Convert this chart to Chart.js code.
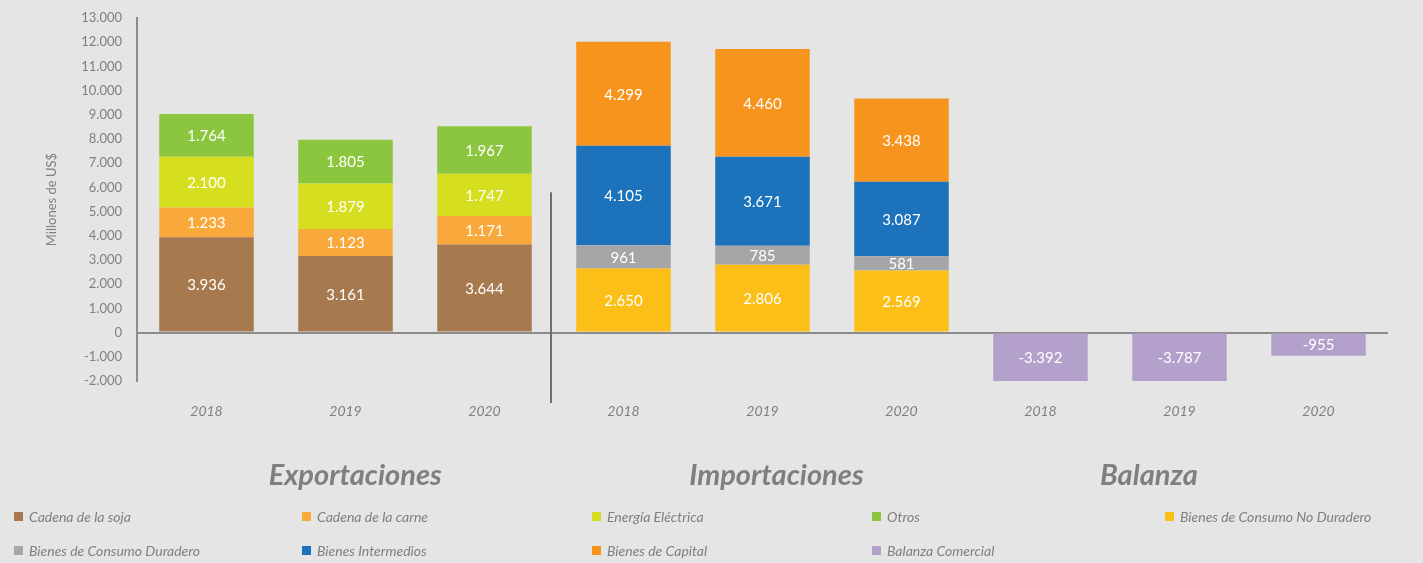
<!DOCTYPE html>
<html lang="es">
<head>
<meta charset="utf-8">
<title>Exportaciones, Importaciones y Balanza</title>
<script src="https://cdn.jsdelivr.net/npm/chart.js@4/dist/chart.umd.min.js"></script>
<style>
  html, body { margin: 0; padding: 0; background: #e5e5e5; }
  #wrap { position: relative; width: 1423px; height: 563px; }
</style>
</head>
<body>
<div id="wrap"><canvas id="myChart"></canvas></div>
<script>
'use strict';

// years repeat for each block: exports, imports, balance
var years = ['2018', '2019', '2020', '2018', '2019', '2020', '2018', '2019', '2020'];
var groups = ['Exportaciones', 'Importaciones', 'Balanza'];

// exports (millions of US$)
var soja = [3936, 3161, 3644, null, null, null, null, null, null];
var carne = [1233, 1123, 1171, null, null, null, null, null, null];
var energia = [2100, 1879, 1747, null, null, null, null, null, null];
var otros = [1764, 1805, 1967, null, null, null, null, null, null];
// imports
var noDuradero = [null, null, null, 2650, 2806, 2569, null, null, null];
var duradero = [null, null, null, 961, 785, 581, null, null, null];
var intermedios = [null, null, null, 4105, 3671, 3087, null, null, null];
var capital = [null, null, null, 4299, 4460, 3438, null, null, null];
// trade balance
var balanza = [null, null, null, null, null, null, -3392, -3787, -955];

var yMin = -2000;
var yMax = 13000;
var yStep = 1000;

var grey = '#7f7f7f';

function fmt(v) {
  return Number(v).toLocaleString('de-DE');
}

function ds(label, data, color) {
  return { label: label, data: data, backgroundColor: color, stack: 'total' };
}

// white numbers in the middle of the visible part of every segment
var segmentLabels = {
  id: 'segmentLabels',
  afterDatasetsDraw: function(chart) {
    var ctx = chart.ctx;
    var area = chart.chartArea;
    ctx.save();
    ctx.fillStyle = '#ffffff';
    ctx.font = '15px Lato';
    ctx.textAlign = 'center';
    ctx.textBaseline = 'middle';
    chart.data.datasets.forEach(function(set, i) {
      var meta = chart.getDatasetMeta(i);
      meta.data.forEach(function(bar, j) {
        var v = set.data[j];
        if (v === null) return;
        var top = Math.max(Math.min(bar.y, area.bottom), area.top);
        var base = Math.max(Math.min(bar.base, area.bottom), area.top);
        ctx.fillText(fmt(v), bar.x, (top + base) / 2 + 1);
      });
    });
    ctx.restore();
  }
};

// divider between exports and imports, group titles and the legend
var extras = {
  id: 'extras',
  beforeDraw: function(chart) {
    var ctx = chart.ctx;
    ctx.save();
    ctx.fillStyle = '#e5e5e5';
    ctx.fillRect(0, 0, chart.width, chart.height);
    ctx.restore();
  },
  afterDraw: function(chart) {
    var ctx = chart.ctx;
    var x = chart.scales.x;
    var y = chart.scales.y;
    var area = chart.chartArea;
    ctx.save();

    // divider
    var dx = (x.getPixelForValue(2) + x.getPixelForValue(3)) / 2 - 3;
    ctx.strokeStyle = '#6f6f6f';
    ctx.lineWidth = 2;
    ctx.beginPath();
    ctx.moveTo(dx, y.getPixelForValue(5800));
    ctx.lineTo(dx, area.bottom + 22);
    ctx.stroke();

    // group titles
    var step = x.getPixelForValue(1) - x.getPixelForValue(0);
    var titleAt = [1.07, 4.1, 6.78];
    ctx.fillStyle = grey;
    ctx.font = 'italic bold 29px Lato';
    ctx.textAlign = 'center';
    ctx.textBaseline = 'middle';
    groups.forEach(function(g, i) {
      ctx.fillText(g, x.getPixelForValue(0) + titleAt[i] * step, 476);
    });

    // legend, five columns by two rows
    var cols = [14, 302, 592, 872, 1165];
    var rows = [517, 551];
    ctx.font = 'italic 14px Lato';
    ctx.textAlign = 'left';
    chart.data.datasets.forEach(function(set, i) {
      var lx = cols[i % 5];
      var ly = rows[Math.floor(i / 5)];
      ctx.fillStyle = set.backgroundColor;
      ctx.fillRect(lx, ly - 5, 9, 9);
      ctx.fillStyle = grey;
      ctx.fillText(set.label, lx + 15, ly);
    });
    ctx.restore();
  }
};

var ctx = document.getElementById('myChart').getContext('2d');
new Chart(ctx, {
  type: 'bar',
  data: {
    labels: years,
    datasets: [
      ds('Cadena de la soja', soja, '#a7794e'),
      ds('Cadena de la carne', carne, '#f9a93b'),
      ds('Energía Eléctrica', energia, '#d5df1f'),
      ds('Otros', otros, '#8cc63f'),
      ds('Bienes de Consumo No Duradero', noDuradero, '#fbbf17'),
      ds('Bienes de Consumo Duradero', duradero, '#a6a6a8'),
      ds('Bienes Intermedios', intermedios, '#1d72bc'),
      ds('Bienes de Capital', capital, '#f7941e'),
      ds('Balanza Comercial', balanza, '#b3a1cb')
    ]
  },
  options: {
    responsive: true,
    maintainAspectRatio: false,
    animation: false,
    categoryPercentage: 1,
    barPercentage: 0.68,
    layout: { padding: { top: 18, right: 35, left: 44, bottom: 0 } },
    plugins: {
      legend: { display: false },
      tooltip: { enabled: false }
    },
    scales: {
      x: {
        stacked: true,
        grid: { display: false },
        border: { display: false },
        ticks: {
          color: grey,
          font: { family: 'Lato', size: 14, style: 'italic' },
          padding: 14
        },
        afterFit: function(scale) { scale.height = 182; }
      },
      y: {
        stacked: true,
        min: yMin,
        max: yMax,
        border: { display: true, color: '#8c8c8c', width: 2 },
        grid: {
          drawTicks: false,
          lineWidth: 2,
          color: function(c) { return c.tick && c.tick.value === 0 ? '#8c8c8c' : 'rgba(0,0,0,0)'; }
        },
        ticks: {
          stepSize: yStep,
          color: grey,
          padding: 15,
          font: { family: 'Lato', size: 13 },
          callback: function(v) { return fmt(v); }
        },
        title: {
          display: true,
          text: 'Millones de US$',
          color: grey,
          padding: { top: 0, bottom: 0 },
          font: { family: 'Lato', size: 13 }
        },
        afterFit: function(scale) {
          scale.width = 93;
          scale.paddingTop = 0;
          scale.paddingBottom = 0;
        }
      }
    }
  },
  plugins: [segmentLabels, extras]
});
</script>
</body>
</html>
